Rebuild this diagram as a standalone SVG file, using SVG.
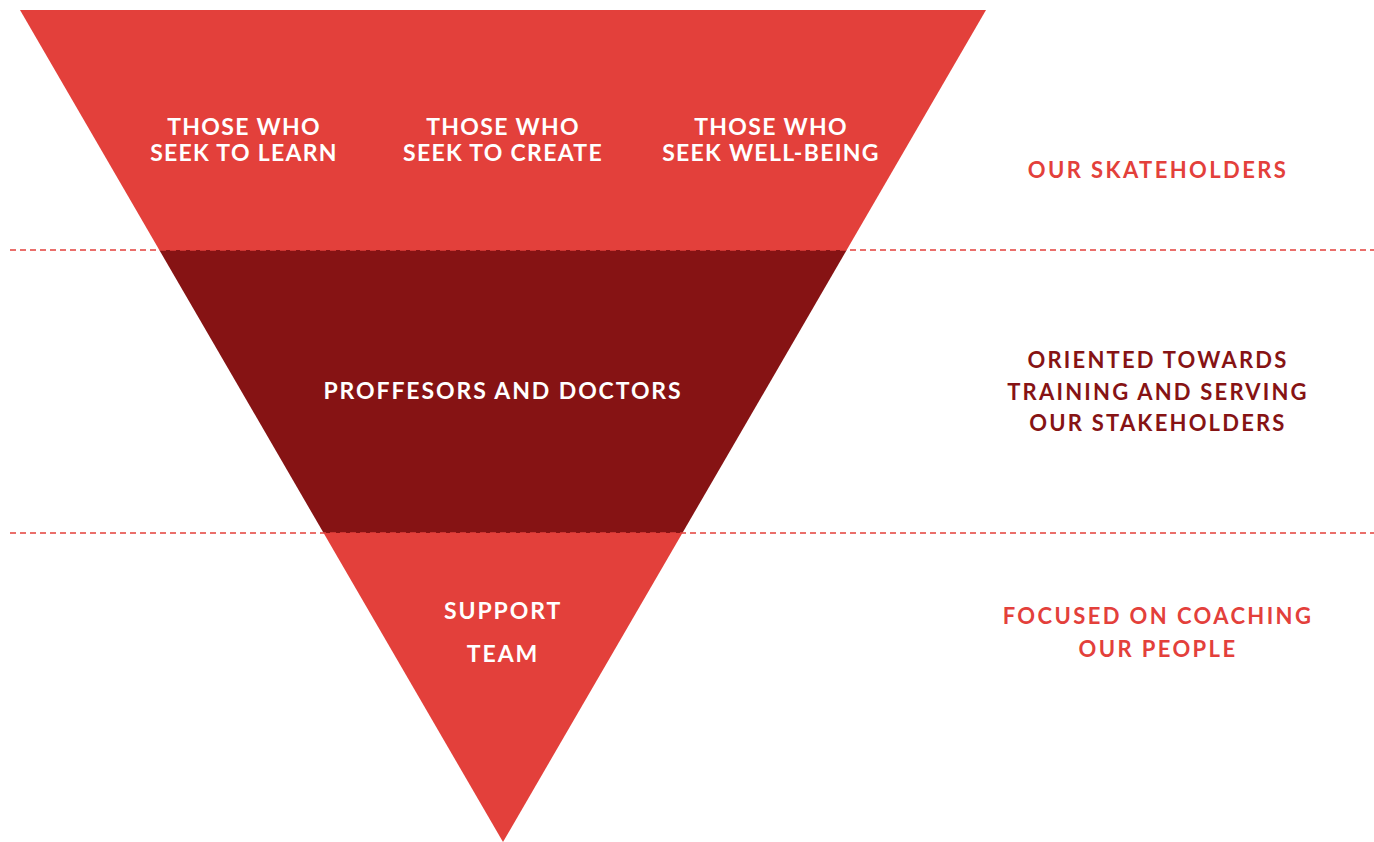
<svg xmlns="http://www.w3.org/2000/svg" width="1374" height="842" viewBox="0 0 1374 842">
<style>
.t{font-family:Lato,"Open Sans","Liberation Sans",sans-serif;font-weight:700;text-anchor:middle}
.w{fill:#ffffff;font-size:23px;letter-spacing:1.3px}
.w2{fill:#ffffff;font-size:23px;letter-spacing:1.9px}
.r{fill:#e3403b;font-size:22px;letter-spacing:2.4px}
.d{fill:#861314;font-size:22px;letter-spacing:2.2px}
.dash{stroke:#e3403b;stroke-width:1.3;stroke-dasharray:6 4;fill:none}
</style>
<rect width="1374" height="842" fill="#ffffff"/>
<g id="tier-top">
<polygon points="20,10 986,10 846.7,250 159.3,250" fill="#e3403b"/>
<text class="t w" x="244" y="135">THOSE WHO</text>
<text class="t w" x="244" y="161">SEEK TO LEARN</text>
<text class="t w" x="503" y="135">THOSE WHO</text>
<text class="t w" x="503" y="161">SEEK TO CREATE</text>
<text class="t w" x="771" y="135">THOSE WHO</text>
<text class="t w" x="771" y="161">SEEK WELL-BEING</text>
</g>
<g id="tier-middle">
<polygon points="159.3,250 846.7,250 682.4,533 323.6,533" fill="#861314"/>
<text class="t w2" x="503" y="399">PROFFESORS AND DOCTORS</text>
</g>
<g id="tier-bottom">
<polygon points="323.6,533 682.4,533 503,842" fill="#e3403b"/>
<text class="t w2" x="503" y="619">SUPPORT</text>
<text class="t w2" x="503" y="662">TEAM</text>
</g>
<g id="connectors">
<line class="dash" x1="10" y1="250" x2="1374" y2="250"/>
<line class="dash" x1="10" y1="533" x2="1374" y2="533"/>
</g>
<g id="label-stakeholders">
<text class="t r" x="1158" y="178">OUR SKATEHOLDERS</text>
</g>
<g id="label-oriented">
<text class="t d" x="1158" y="368">ORIENTED TOWARDS</text>
<text class="t d" x="1158" y="400">TRAINING AND SERVING</text>
<text class="t d" x="1158" y="431">OUR STAKEHOLDERS</text>
</g>
<g id="label-focused">
<text class="t r" x="1158" y="624">FOCUSED ON COACHING</text>
<text class="t r" x="1158" y="657">OUR PEOPLE</text>
</g>
</svg>
